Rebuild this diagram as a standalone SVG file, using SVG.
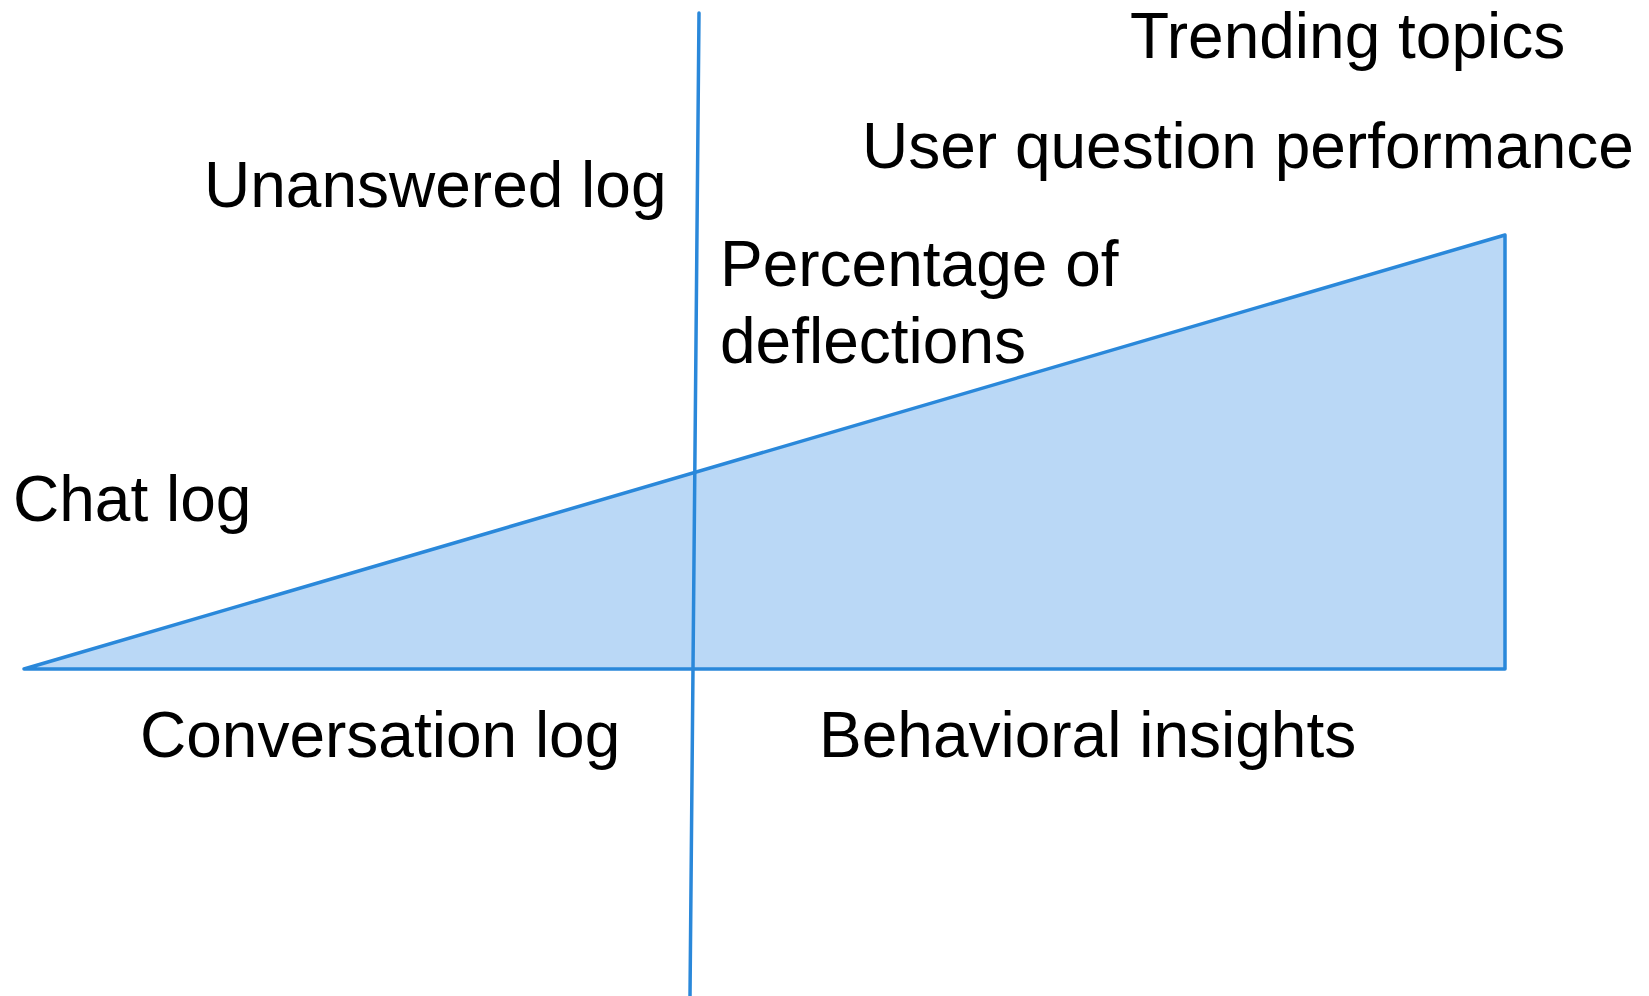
<svg xmlns="http://www.w3.org/2000/svg" width="1649" height="996" viewBox="0 0 1649 996">
<style>
.lbl{font-family:"Liberation Sans",Arial,sans-serif;font-size:64px;fill:#000}
.ln{stroke:#2a88da;stroke-width:3.5;stroke-linecap:round;stroke-linejoin:round}
</style>
<rect width="1649" height="996" fill="#fff"/>
<g id="triangle">
<polygon class="ln" points="24,669 1505,235 1505,669" fill="#bad8f6"/>
</g>
<g id="connectors">
<line class="ln" x1="699" y1="13" x2="690" y2="996" fill="none"/>
</g>
<g id="trending"><text class="lbl" x="1130" y="58">Trending topics</text></g>
<g id="user-question"><text class="lbl" x="862" y="168">User question performance</text></g>
<g id="unanswered"><text class="lbl" x="204" y="207">Unanswered log</text></g>
<g id="percentage"><text class="lbl" x="720" y="286">Percentage of</text><text class="lbl" x="720" y="363">deflections</text></g>
<g id="chat"><text class="lbl" x="13" y="521">Chat log</text></g>
<g id="conversation"><text class="lbl" x="140" y="757">Conversation log</text></g>
<g id="behavioral"><text class="lbl" x="819" y="757">Behavioral insights</text></g>
</svg>
